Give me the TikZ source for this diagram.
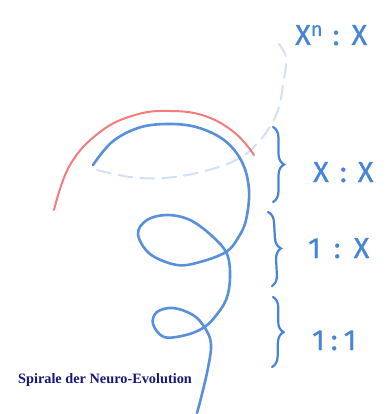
\documentclass[tikz,border=0pt]{standalone}
\usepackage{fontspec}
\setmainfont{Liberation Serif}
\newfontfamily\stiftfont[FakeBold=0.8]{Fira Sans}
\usetikzlibrary{decorations.pathreplacing}

\definecolor{stift}{RGB}{70,132,214}
\definecolor{rotstift}{RGB}{240,110,110}
\definecolor{titelblau}{RGB}{22,22,120}

\begin{document}
\begin{tikzpicture}[
x=1pt,
y=-1pt,
spirale/.style={
    draw=stift,
    line width=2.6pt,
    line cap=round,
    line join=round,
    opacity=0.9
},
bogen/.style={
    draw=rotstift,
    line width=2pt,
    line cap=round,
    opacity=0.9
},
spur/.style={
    draw=stift,
    line width=2pt,
    line cap=round,
    dash pattern=on 14pt off 8pt,
    opacity=0.25
},
klammer/.style={
    draw=stift,
    line width=2.2pt,
    line cap=round,
    decorate,
    decoration={brace, amplitude=11pt}
},
verhaeltnis/.style={
    text=stift,
    font=\stiftfont\fontsize{29}{31}\selectfont,
    inner sep=0pt,
    anchor=base west
},
titel/.style={
    text=titelblau,
    font=\bfseries\fontsize{14.3}{16}\selectfont,
    inner sep=0pt
}
]

\useasboundingbox (0,0) rectangle (386,414);

% Roter Bogen
\draw[bogen] plot[smooth, tension=0.7] coordinates {
    (54,210) (70,165) (100,132) (135,115) (170,111) (205,116) (235,133) (254,155)
};

% Blaue Spirale
\draw[spirale] plot[smooth, tension=0.6] coordinates {
    (93,165) (112,142) (138,128) (166,124) (196,127) (224,140) (242,162) (249,190)
    (246,220) (238,238) (226,252) (200,262) (177,265) (150,254) (138,234) (147,220)
    (167,215) (190,220) (212,236) (227,254) (230,278) (226,300) (214,318) (203,328)
    (186,335) (164,337) (153,324) (157,312) (173,308) (193,315) (205,328) (211,344)
    (208,368) (201,398) (197,413)
};

% Schwache Spur
\draw[spur] plot[smooth, tension=0.6] coordinates {
    (97,170) (130,177) (165,178) (205,171) (240,158) (262,138) (277,113) (283,85) (286,58) (278,43)
};

% Klammern
\coordinate (k1oben) at (273,127);
\coordinate (k1unten) at (273,202);
\coordinate (k2oben) at (268,212);
\coordinate (k2unten) at (272,286);
\coordinate (k3oben) at (273,297);
\coordinate (k3unten) at (272,367);

\draw[klammer] (k1oben) -- (k1unten);
\draw[klammer] (k2oben) -- (k2unten);
\draw[klammer] (k3oben) -- (k3unten);

% Verhaeltnisse
\node[verhaeltnis] (xnx) at (295,45) {X\raisebox{9pt}{\fontsize{20}{22}\selectfont n}\hspace{10pt}:\hspace{12pt}X};
\node[verhaeltnis] (xx) at (313,182) {X\hspace{11pt}:\hspace{11pt}X};
\node[verhaeltnis] (einsx) at (308,258) {1\hspace{13pt}:\hspace{13pt}X};
\node[verhaeltnis] (einseins) at (312,350) {1\hspace{6pt}:\hspace{6pt}1};

% Titel
\node[titel] (beschriftung) at (105,380) {Spirale der Neuro-Evolution};

\end{tikzpicture}
\end{document}
